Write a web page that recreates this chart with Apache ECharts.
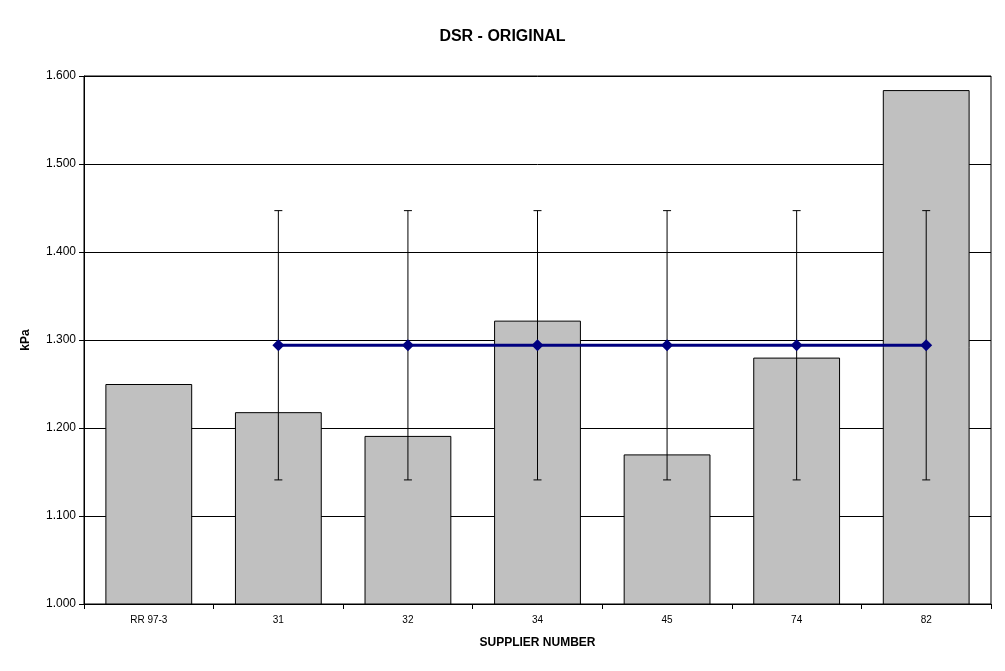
<!DOCTYPE html>
<html>
<head>
<meta charset="utf-8">
<script src="https://cdn.jsdelivr.net/npm/echarts@6/dist/echarts.min.js"></script>
<style>
  html, body { margin: 0; padding: 0; background: #fff; }
  #chart { width: 1005px; height: 671px; }
</style>
</head>
<body>
<div id="chart"></div>
<script>
// supplier categories
var suppliers = ['RR 97-3', '31', '32', '34', '45', '74', '82']
// DSR values (kPa)
var dsrValues = [1.250, 1.218, 1.191, 1.322, 1.170, 1.280, 1.584]
// reference mean line, no value for RR 97-3
var meanLine = ['-', 1.294, 1.294, 1.294, 1.294, 1.294, 1.294]
// error bar low / high
var errLow = [null, 1.141, 1.141, 1.141, 1.141, 1.141, 1.141]
var errHigh = [null, 1.447, 1.447, 1.447, 1.447, 1.447, 1.447]

var errData = []
for (var i = 0; i < suppliers.length; i++) {
  if (errLow[i] != null) errData.push([i, errLow[i], errHigh[i]])
}

var chart = echarts.init(document.getElementById('chart'))
chart.setOption({
  animation: false,
  textStyle: { fontFamily: 'Liberation Sans, Arial, sans-serif' },
  title: {
    text: 'DSR - ORIGINAL',
    left: 'center',
    top: 24,
    textStyle: { fontSize: 16, fontWeight: 'bold', color: '#000' }
  },
  grid: {
    left: 84, right: 14, top: 76, bottom: 67,
    show: true, borderColor: '#000', borderWidth: 1, backgroundColor: 'transparent'
  },
  xAxis: {
    type: 'category',
    data: suppliers,
    name: 'SUPPLIER NUMBER',
    nameLocation: 'middle',
    nameGap: 33,
    nameTextStyle: { fontSize: 12, fontWeight: 'bold', color: '#000' },
    axisLine: { lineStyle: { color: '#000', width: 1 } },
    axisTick: { show: true, alignWithLabel: false, interval: 0, length: 5, lineStyle: { color: '#000' } },
    axisLabel: { fontSize: 10, color: '#000', margin: 11 }
  },
  yAxis: {
    type: 'value',
    min: 1.0,
    max: 1.6,
    interval: 0.1,
    name: 'kPa',
    nameLocation: 'middle',
    nameGap: 52,
    nameTextStyle: { fontSize: 12, fontWeight: 'bold', color: '#000' },
    axisLine: { show: true, lineStyle: { color: '#000', width: 1 } },
    axisTick: { show: true, length: 5, lineStyle: { color: '#000' } },
    axisLabel: {
      fontSize: 12, color: '#000', margin: 8,
      formatter: function (v) { return v.toFixed(3) }
    },
    splitLine: { lineStyle: { color: '#000', width: 1 } }
  },
  series: [
    {
      type: 'bar',
      data: dsrValues,
      barCategoryGap: '33%',
      itemStyle: { color: '#c0c0c0', borderColor: '#000', borderWidth: 1 },
      z: 2
    },
    {
      type: 'custom',
      data: errData,
      z: 3,
      renderItem: function (params, api) {
        var x = api.value(0)
        var lo = api.coord([x, api.value(1)])
        var hi = api.coord([x, api.value(2)])
        var cap = 4
        var style = { stroke: '#000', lineWidth: 1 }
        return {
          type: 'group',
          children: [
            { type: 'line', shape: { x1: hi[0], y1: hi[1], x2: lo[0], y2: lo[1] }, style: style },
            { type: 'line', shape: { x1: hi[0] - cap, y1: hi[1], x2: hi[0] + cap, y2: hi[1] }, style: style },
            { type: 'line', shape: { x1: lo[0] - cap, y1: lo[1], x2: lo[0] + cap, y2: lo[1] }, style: style }
          ]
        }
      }
    },
    {
      type: 'line',
      data: meanLine,
      symbol: 'diamond',
      symbolSize: 12,
      lineStyle: { color: '#000080', width: 3 },
      itemStyle: { color: '#000080' },
      z: 4
    }
  ]
})
</script>
</body>
</html>
